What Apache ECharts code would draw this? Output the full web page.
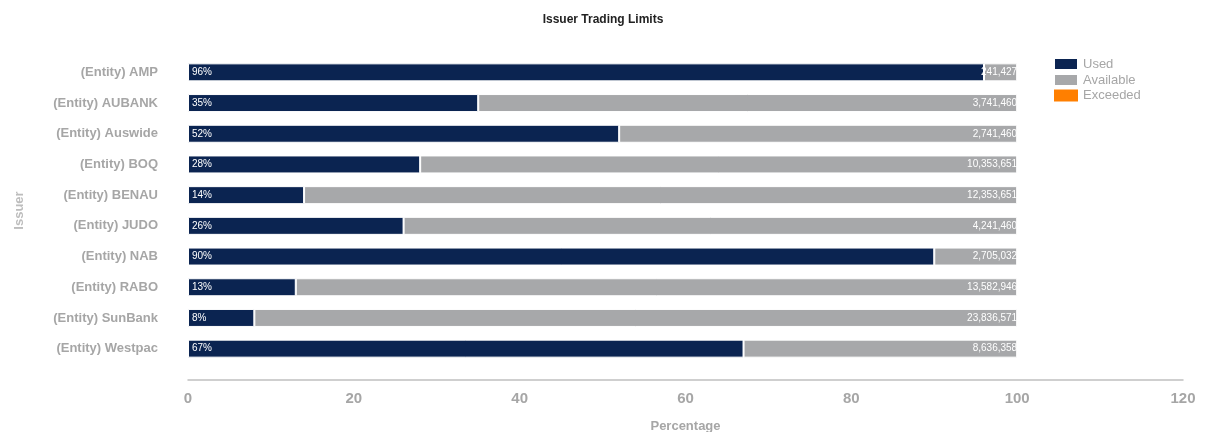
<!DOCTYPE html>
<html>
<head>
<meta charset="utf-8">
<script src="https://cdn.jsdelivr.net/npm/echarts@6/dist/echarts.min.js"></script>
<style>
  html, body { margin: 0; padding: 0; background: #fff; }
  #chart { width: 1206px; height: 432px; }
</style>
</head>
<body>
<div id="chart"></div>
<script>
const issuers = [
  '(Entity) AMP', '(Entity) AUBANK', '(Entity) Auswide', '(Entity) BOQ', '(Entity) BENAU',
  '(Entity) JUDO', '(Entity) NAB', '(Entity) RABO', '(Entity) SunBank', '(Entity) Westpac',
];
const usedPct = [96, 35, 52, 28, 14, 26, 90, 13, 8, 67];
const availablePct = [4, 65, 48, 72, 86, 74, 10, 87, 92, 33];
const availableAmount = [
  '241,427', '3,741,460', '2,741,460', '10,353,651', '12,353,651',
  '4,241,460', '2,705,032', '13,582,946', '23,836,571', '8,636,358',
];
const exceededPct = [0, 0, 0, 0, 0, 0, 0, 0, 0, 0];

const labelGrey = '#a6a6a6';

const chart = echarts.init(document.getElementById('chart'));

chart.setOption({
  animation: false,
  textStyle: { fontFamily: 'Liberation Sans, Arial, sans-serif' },
  color: ['#0b2451', '#a7a8aa', '#ff7f00'],
  title: {
    text: 'Issuer Trading Limits',
    left: 'center',
    top: 9,
    textStyle: { fontSize: 12, fontWeight: 'bold', color: '#222' },
  },
  legend: {
    orient: 'vertical',
    left: 1048,
    top: 52,
    padding: 5,
    itemWidth: 24,
    itemHeight: 12,
    itemGap: 2,
    icon: 'rect',
    textStyle: { color: '#a6a6a6', fontSize: 13, lineHeight: 12 },
    data: ['Used', 'Available', 'Exceeded'],
  },
  grid: { left: 188, right: 23, top: 57, bottom: 68, outerBoundsMode: 'none' },
  xAxis: {
    type: 'value',
    min: 0,
    max: 120,
    interval: 20,
    offset: 16,
    name: 'Percentage',
    nameLocation: 'middle',
    nameGap: 40,
    nameTextStyle: { color: labelGrey, fontSize: 13, fontWeight: 'bold' },
    axisLine: { show: true, lineStyle: { color: '#c0c0c0', width: 1.5 } },
    axisTick: { show: false },
    splitLine: { show: false },
    axisLabel: { color: labelGrey, fontSize: 15, fontWeight: 'bold', margin: 11 },
  },
  yAxis: {
    type: 'category',
    inverse: true,
    data: issuers,
    name: 'Issuer',
    nameLocation: 'middle',
    nameGap: 162,
    nameTextStyle: { color: '#bdbdbd', fontSize: 13, fontWeight: 'bold' },
    axisLine: { show: false },
    axisTick: { show: false },
    axisLabel: { color: labelGrey, fontSize: 13, fontWeight: 'bold', margin: 30 },
  },
  series: [
    {
      name: 'Used',
      type: 'bar',
      stack: 'limit',
      barWidth: 18,
      data: usedPct,
      itemStyle: { borderColor: '#fff', borderWidth: 1 },
      label: {
        show: true,
        position: 'insideLeft',
        distance: 4,
        color: '#fff',
        fontSize: 10,
        formatter: (p) => p.value + '%',
      },
    },
    {
      name: 'Available',
      type: 'bar',
      stack: 'limit',
      barWidth: 18,
      data: availablePct,
      itemStyle: { borderColor: '#fff', borderWidth: 1 },
      label: {
        show: true,
        position: 'insideRight',
        distance: 0,
        color: '#fff',
        fontSize: 10,
        formatter: (p) => availableAmount[p.dataIndex],
      },
    },
    {
      name: 'Exceeded',
      type: 'bar',
      stack: 'limit',
      barWidth: 18,
      data: exceededPct,
    },
  ],
});
</script>
</body>
</html>
